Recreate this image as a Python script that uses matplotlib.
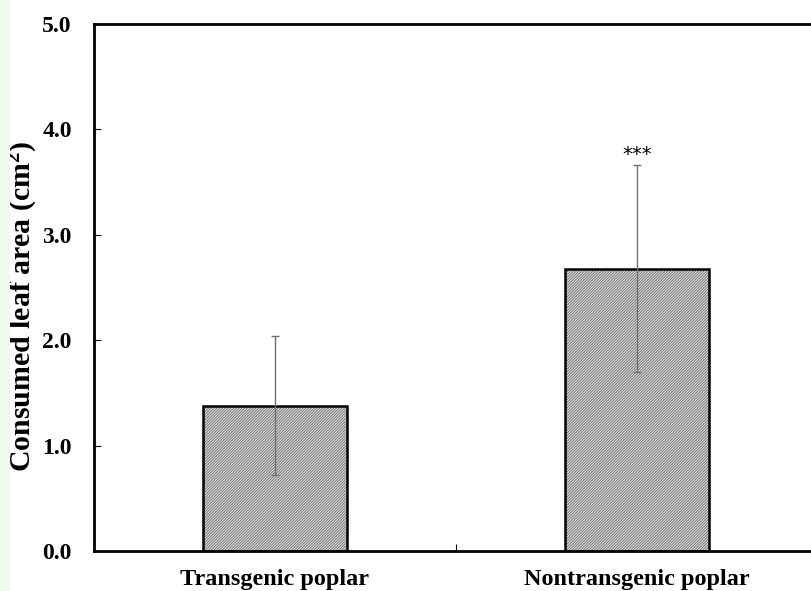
import matplotlib
matplotlib.use("Agg")
import matplotlib.pyplot as plt
from matplotlib.patches import Rectangle

categories = ["Transgenic poplar", "Nontransgenic poplar"]
means = [1.38, 2.68]
errors = [0.66, 0.98]
yticks = [0.0, 1.0, 2.0, 3.0, 4.0, 5.0]
signif = ["", "***"]

plt.rcParams['font.family'] = ['Liberation Serif', 'DejaVu Serif']
plt.rcParams['mathtext.default'] = 'regular'
plt.rcParams['hatch.linewidth'] = 0.45

fig = plt.figure(figsize=(8.11, 5.91), dpi=100)
fig.patches.append(Rectangle((0, 0), 10/811, 1, transform=fig.transFigure,
                             facecolor='#eefaee', edgecolor='none', zorder=0))
L, R, T, B = 94, 818, 24, 551
ax = fig.add_axes([L/811, 1 - B/591, (R-L)/811, (B-T)/591])

x = list(range(len(categories)))
# hatched fill
ax.bar(x, means, width=0.4, facecolor='#d8d8d8', edgecolor='#505050',
       linewidth=0, hatch='////////////', zorder=2)
# black outline
ax.bar(x, means, width=0.4, facecolor='none', edgecolor='black',
       linewidth=1.8, zorder=2.5)
ax.errorbar(x, means, yerr=errors, fmt='none', ecolor='#707070',
            elinewidth=1.0, capsize=3, capthick=1.0, zorder=3)
for xi, m, e, s in zip(x, means, errors, signif):
    if s:
        ax.text(xi, m + e + 0.1, s, ha='center', va='center', fontsize=14,
                family=['DejaVu Sans'])

ax.set_xlim(-0.5, 1.5)
ax.set_ylim(0, 5)
ax.set_yticks(yticks)
ax.set_yticklabels([f"{v:.1f}" for v in yticks], fontsize=17, fontweight='bold')
ax.set_xticks([0.5])
ax.set_xticklabels([""])
ax.set_xticks(x, minor=True)
ax.set_xticklabels(categories, minor=True, fontsize=17.5, fontweight='bold')
ax.tick_params(axis='x', which='minor', length=0, pad=13)
ax.tick_params(axis='x', which='major', direction='in', length=5, width=0.8)
ax.tick_params(axis='y', direction='in', length=5, width=0.8, pad=16)
ax.set_ylabel("Consumed leaf area (cm$^{2}$)", fontsize=21.5, fontweight='bold')
ax.yaxis.set_label_coords(-54/724, 0.465)
for sp in ['left', 'bottom', 'top', 'right']:
    ax.spines[sp].set_linewidth(2)

fig.savefig("out.png", dpi=100)
